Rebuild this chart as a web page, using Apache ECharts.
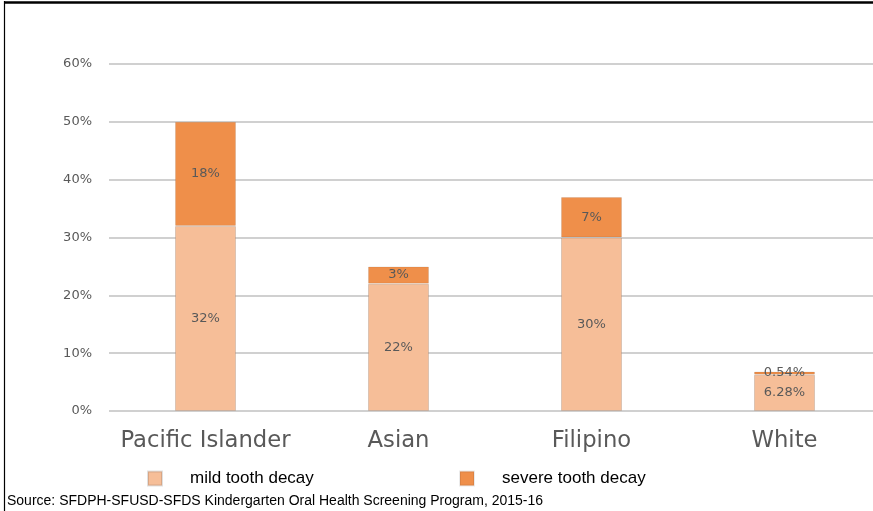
<!DOCTYPE html>
<html><head><meta charset="utf-8">
<script src="https://cdn.jsdelivr.net/npm/echarts@6/dist/echarts.min.js"></script>
<style>html,body{margin:0;padding:0;background:#fff;overflow:hidden;width:873px;height:511px}#c{width:881px;height:511px}</style>
</head><body><div id="c"></div>
<script>
const categories = ['Pacific Islander', 'Asian', 'Filipino', 'White'];
const mildValues = [32, 22, 30, 6.28];
const severeValues = [18, 3, 7, 0.54];
const yTicks = [0, 10, 20, 30, 40, 50, 60];
const seriesNames = ['mild tooth decay', 'severe tooth decay'];
const sourceText = 'Source: SFDPH-SFUSD-SFDS Kindergarten Oral Health Screening Program, 2015-16';

const chart = echarts.init(document.getElementById('c'), null, {renderer: 'canvas'});
const labelStyle = {show: true, position: 'inside', color: '#595959', fontFamily: 'DejaVu Sans', fontSize: 13,
  formatter: p => p.value + '%'};
const legendText = {color: '#000', fontFamily: 'Liberation Sans', fontSize: 17, padding: [0, 0, 0, 23]};
chart.setOption({
  animation: false,
  grid: {left: 109, right: 0, top: 64, bottom: 100},
  xAxis: {type: 'category', data: categories,
    axisLine: {show: false}, axisTick: {show: false},
    axisLabel: {interval: 0, color: '#595959', fontFamily: 'DejaVu Sans', fontSize: 22.7, margin: 19}},
  yAxis: {type: 'value', min: yTicks[0], max: yTicks[yTicks.length - 1], interval: 10,
    axisLabel: {formatter: '{value}%', color: '#595959', fontFamily: 'DejaVu Sans', fontSize: 13, margin: 17},
    splitLine: {lineStyle: {color: '#c0c0c0', width: 1.5}},
    axisLine: {show: false}, axisTick: {show: false}},
  legend: [
    {data: [seriesNames[0]], left: 147, top: 470, padding: 0, itemWidth: 14, itemHeight: 14, itemGap: 0,
     textStyle: legendText, icon: 'rect', selectedMode: false},
    {data: [seriesNames[1]], left: 459, top: 470, padding: 0, itemWidth: 14, itemHeight: 14, itemGap: 0,
     textStyle: legendText, icon: 'rect', selectedMode: false}
  ],
  graphic: [
    {type: 'line', shape: {x1: 4, y1: 2.5, x2: 881, y2: 2.5}, style: {stroke: '#000', lineWidth: 2.5}},
    {type: 'line', shape: {x1: 4.5, y1: 1, x2: 4.5, y2: 511}, style: {stroke: '#000', lineWidth: 1.2}},
    {type: 'text', left: 7, top: 494, style: {text: sourceText, fill: '#000', font: '14px "Liberation Sans"'}}
  ],
  series: [
    {name: seriesNames[0], type: 'bar', stack: 't', data: mildValues, barWidth: 61,
     itemStyle: {color: '#F6BE98', borderColor: 'rgba(0,0,0,0.12)', borderWidth: 1}, label: labelStyle,
     legendHoverLink: false},
    {name: seriesNames[1], type: 'bar', stack: 't', data: severeValues, barWidth: 61,
     itemStyle: {color: '#EF8F4A', borderColor: 'rgba(0,0,0,0.08)', borderWidth: 1}, label: labelStyle}
  ]
});
</script></body></html>
